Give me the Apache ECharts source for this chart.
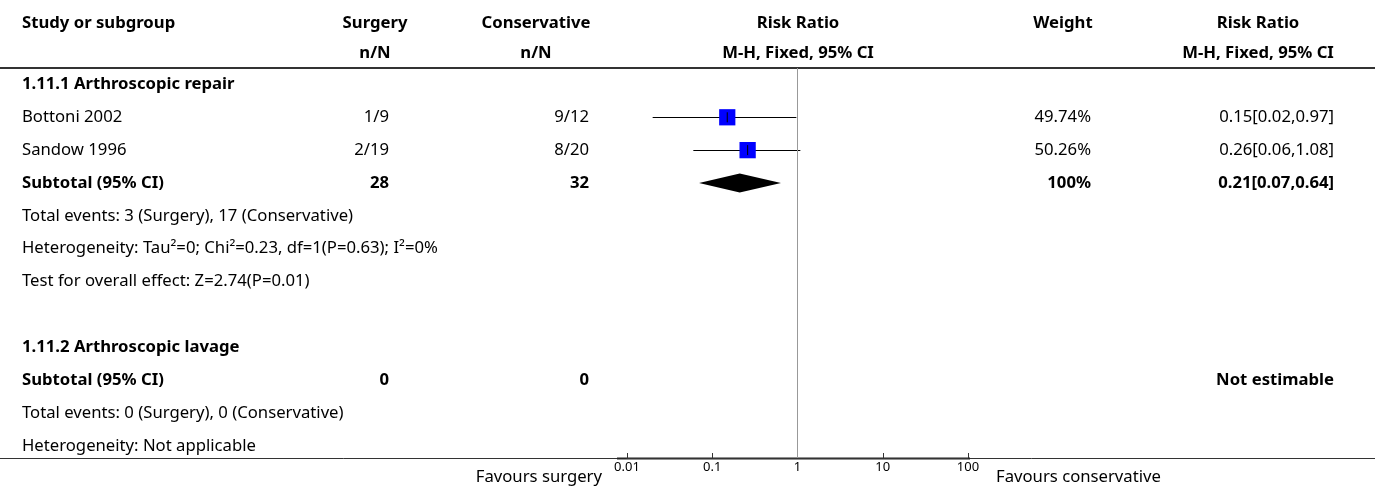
<!DOCTYPE html>
<html>
<head>
<meta charset="utf-8">
<script src="https://cdn.jsdelivr.net/npm/echarts@6/dist/echarts.min.js"></script>
<style>
html,body{margin:0;padding:0;background:#fff;}
#main{width:1375px;height:487px;}
</style>
</head>
<body>
<div id="main"></div>
<script>
// ---- data ----
const rowLabels = [
  '1.11.1 Arthroscopic repair',
  'Bottoni 2002',
  'Sandow 1996',
  'Subtotal (95% CI)',
  'Total events: 3 (Surgery), 17 (Conservative)',
  'Heterogeneity: Tau\u00b2=0; Chi\u00b2=0.23, df=1(P=0.63); I\u00b2=0%',
  'Test for overall effect: Z=2.74(P=0.01)',
  '',
  '1.11.2 Arthroscopic lavage',
  'Subtotal (95% CI)',
  'Total events: 0 (Surgery), 0 (Conservative)',
  'Heterogeneity: Not applicable'
];
const boldRows = [0, 3, 8, 9];
const surgeryCol = ['', '1/9', '2/19', '28', '', '', '', '', '', '0', '', ''];
const conservCol = ['', '9/12', '8/20', '32', '', '', '', '', '', '0', '', ''];
const weightCol = ['', '49.74%', '50.26%', '100%', '', '', '', '', '', '', '', ''];
const rrCol = ['', '0.15[0.02,0.97]', '0.26[0.06,1.08]', '0.21[0.07,0.64]', '', '', '', '', '', 'Not estimable', '', ''];
// studies: [row, rr, lo, hi, weight]
const studies = [
  [1, 0.15, 0.02, 0.97, 49.74],
  [2, 0.26, 0.06, 1.08, 50.26]
];
// subtotal diamonds: [row, rr, lo, hi]
const diamonds = [
  [3, 0.21, 0.07, 0.64]
];
const axisTicks = [0.01, 0.1, 1, 10, 100];
const headers1 = ['Study or subgroup', 'Surgery', 'Conservative', 'Risk Ratio', 'Weight', 'Risk Ratio'];
const headers2 = ['', 'n/N', 'n/N', 'M-H, Fixed, 95% CI', '', 'M-H, Fixed, 95% CI'];
const favoursLeft = 'Favours surgery';
const favoursRight = 'Favours conservative';

// ---- layout ----
const FONT = '"Noto Sans", sans-serif';
const FS = 16.7;
const TOP = 68, BOTTOM_Y = 458, H = 487, W = 1375;
const Y_MIN = -0.5, Y_MAX = 11.37;
const cols = [
  [22, 'left', rowLabels],
  [389, 'right', surgeryCol],
  [589, 'right', conservCol],
  [1091, 'right', weightCol],
  [1334, 'right', rrCol]
];
const headerX = [[22,'left'],[375,'center'],[536,'center'],[798,'center'],[1063,'center'],[1258,'center']];

const chart = echarts.init(document.getElementById('main'), null, {renderer: 'canvas'});

const textData = [];
cols.forEach((c) => {
  c[2].forEach((t, r) => {
    if (t) textData.push([c[0], r, t, c[1], boldRows.indexOf(r) >= 0 ? 1 : 0]);
  });
});

const graphics = [];
headers1.forEach((t, i) => {
  graphics.push({type:'text', x: headerX[i][0], y: 23, style:{text:t, align:headerX[i][1], verticalAlign:'middle', font:'bold '+FS+'px '+FONT, fill:'#000'}});
  if (headers2[i]) graphics.push({type:'text', x: headerX[i][0], y: 53, style:{text:headers2[i], align:headerX[i][1], verticalAlign:'middle', font:'bold '+FS+'px '+FONT, fill:'#000'}});
});
graphics.push({type:'line', shape:{x1:0,y1:TOP,x2:W,y2:TOP}, style:{stroke:'#333', lineWidth:2}});
graphics.push({type:'line', shape:{x1:0,y1:BOTTOM_Y+0.5,x2:W,y2:BOTTOM_Y+0.5}, style:{stroke:'#333', lineWidth:1}});
graphics.push({type:'line', shape:{x1:617,y1:BOTTOM_Y+0.5,x2:970,y2:BOTTOM_Y+0.5}, style:{stroke:'#222', lineWidth:2}});
graphics.push({type:'text', x: 602, y: 477, style:{text:favoursLeft, align:'right', verticalAlign:'middle', font:FS+'px '+FONT, fill:'#000'}});
graphics.push({type:'text', x: 996, y: 477, style:{text:favoursRight, align:'left', verticalAlign:'middle', font:FS+'px '+FONT, fill:'#000'}});

const option = {
  animation: false,
  backgroundColor: '#fff',
  grid: [
    {left: 627, width: 341, top: TOP, height: BOTTOM_Y - TOP, containLabel: false},
    {left: 0, width: W, top: TOP, height: BOTTOM_Y - TOP, containLabel: false}
  ],
  xAxis: [
    {type:'log', logBase:10, min:0.01, max:100, gridIndex:0, position:'bottom',
     axisLine:{show:true, onZero:false, lineStyle:{color:'#333', width:1}},
     axisTick:{show:true, inside:true, length:5, lineStyle:{color:'#333'}},
     axisLabel:{show:true, margin:3, fontSize:13, fontFamily:FONT, color:'#000', formatter: v => {
        const m = axisTicks.find(t => Math.abs(Math.log10(t) - Math.log10(v)) < 1e-6);
        return m !== undefined ? String(m) : '';
     }},
     splitLine:{show:false}, minorTick:{show:false}},
    {type:'value', min:0, max:W, gridIndex:1, show:false}
  ],
  yAxis: [
    {type:'value', min:Y_MIN, max:Y_MAX, inverse:true, gridIndex:0, show:false},
    {type:'value', min:Y_MIN, max:Y_MAX, inverse:true, gridIndex:1, show:false}
  ],
  graphic: graphics,
  series: [
    {
      type:'custom', xAxisIndex:1, yAxisIndex:1, clip:false,
      data: textData,
      renderItem: (params, api) => {
        const d = textData[params.dataIndex];
        const p = api.coord([d[0], d[1]]);
        return {type:'text', x: d[0], y: p[1], style:{text: d[2], align: d[3], verticalAlign:'middle',
          font: (d[4] ? 'bold ' : '') + FS + 'px ' + FONT, fill:'#000'}};
      }
    },
    {
      type:'line', xAxisIndex:0, yAxisIndex:0, symbol:'none', silent:true,
      data: [[1, Y_MIN], [1, Y_MAX]],
      lineStyle:{color:'#999', width:1}
    },
    {
      type:'custom', xAxisIndex:0, yAxisIndex:0, clip:false,
      data: studies,
      renderItem: (params, api) => {
        const row = api.value(0);
        const c = api.coord([api.value(1), row]);
        const lo = api.coord([api.value(2), row]);
        const hi = api.coord([api.value(3), row]);
        const s = 6 + Math.sqrt(api.value(4)) * 1.45;
        const y = Math.round(c[1]) + 0.5;
        return {type:'group', children:[
          {type:'line', shape:{x1:lo[0], y1:y, x2:hi[0], y2:y}, style:{stroke:'#000', lineWidth:1}},
          {type:'rect', shape:{x:c[0]-s/2, y:c[1]-s/2, width:s, height:s}, style:{fill:'#0000ff'}},
          {type:'line', shape:{x1:c[0], y1:c[1]-5, x2:c[0], y2:c[1]+5}, style:{stroke:'#000', lineWidth:1}}
        ]};
      }
    },
    {
      type:'custom', xAxisIndex:0, yAxisIndex:0, clip:false,
      data: diamonds,
      renderItem: (params, api) => {
        const row = api.value(0);
        const c = api.coord([api.value(1), row]);
        const lo = api.coord([api.value(2), row]);
        const hi = api.coord([api.value(3), row]);
        const h = 9.5;
        return {type:'polygon', shape:{points:[[lo[0], c[1]], [c[0], c[1]-h], [hi[0], c[1]], [c[0], c[1]+h]]}, style:{fill:'#000'}};
      }
    }
  ]
};
chart.setOption(option);
</script>
</body>
</html>
